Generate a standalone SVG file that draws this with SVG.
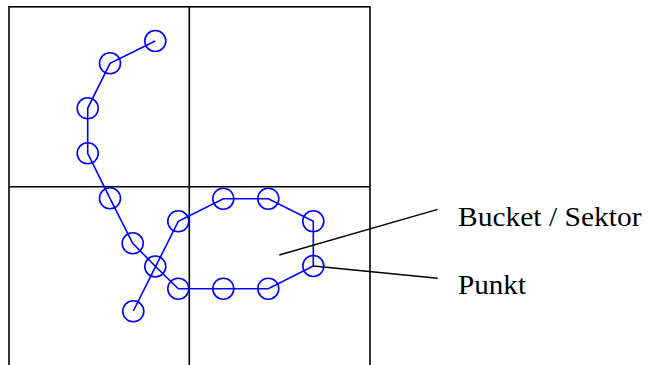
<svg xmlns="http://www.w3.org/2000/svg" width="648" height="365" viewBox="0 0 648 365">
<style>
.grid{fill:none;stroke:#000;stroke-width:1.6}
.path{fill:none;stroke:#0000ff;stroke-width:1.6;stroke-linejoin:miter}
.pt{fill:none;stroke:#0000ff;stroke-width:1.6}
.lead{stroke:#000;stroke-width:1.4;fill:none}
.lbl{font-family:"Liberation Serif","Times New Roman",serif;font-size:27px;fill:#000}
</style>
<rect width="648" height="365" fill="#fff"/>
<g id="grid">
<rect class="grid" x="9" y="6.8" width="361" height="370"/>
<line class="grid" x1="189.3" y1="6.8" x2="189.3" y2="370"/>
<line class="grid" x1="9" y1="186.8" x2="370" y2="186.8"/>
</g>
<g id="connectors">
<polyline class="path" points="155.3,41 110,63.3 87.7,108.3 87.7,153.3 110,198.3 132.7,243.3 155.3,266.3 178.3,288.7 223.3,288.7 268.3,288.7 313.3,266 313.3,221.3 268.3,198.7 223.3,198.7 178.3,221.3 155.8,266.2 133.3,311"/>
<line class="lead" x1="279.3" y1="255" x2="437.7" y2="209.3"/>
<line class="lead" x1="313.3" y1="266" x2="437.7" y2="278.3"/>
</g>
<g id="points">
<circle class="pt" cx="155.3" cy="41" r="10.5"/>
<circle class="pt" cx="110" cy="63.3" r="10.5"/>
<circle class="pt" cx="87.7" cy="108.3" r="10.5"/>
<circle class="pt" cx="87.7" cy="153.3" r="10.5"/>
<circle class="pt" cx="110" cy="198.3" r="10.5"/>
<circle class="pt" cx="132.7" cy="243.3" r="10.5"/>
<circle class="pt" cx="155.3" cy="266.5" r="10.5"/>
<circle class="pt" cx="178.3" cy="288.7" r="10.5"/>
<circle class="pt" cx="223.3" cy="288.7" r="10.5"/>
<circle class="pt" cx="268.3" cy="288.7" r="10.5"/>
<circle class="pt" cx="313.3" cy="266" r="10.5"/>
<circle class="pt" cx="313.3" cy="221.3" r="10.5"/>
<circle class="pt" cx="268.3" cy="198.7" r="10.5"/>
<circle class="pt" cx="223.3" cy="198.7" r="10.5"/>
<circle class="pt" cx="178.3" cy="221.3" r="10.5"/>
<circle class="pt" cx="133.3" cy="311.3" r="10.5"/>
</g>
<g id="label-bucket">
<text class="lbl" x="458" y="225.7" textLength="183.5" lengthAdjust="spacingAndGlyphs">Bucket / Sektor</text>
</g>
<g id="label-punkt">
<text class="lbl" x="458" y="294.3" textLength="68" lengthAdjust="spacingAndGlyphs">Punkt</text>
</g>
</svg>
